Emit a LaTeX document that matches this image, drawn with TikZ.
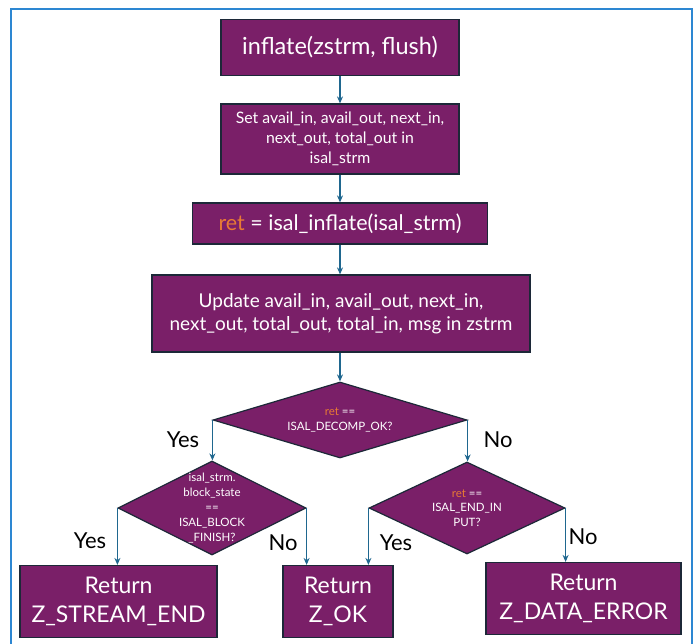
\documentclass[tikz,border=0pt]{standalone}
\usepackage{fontspec}
\setmainfont{Lato}
\usetikzlibrary{shapes.geometric,arrows.meta}
\definecolor{boxfill}{RGB}{122,31,104}
\definecolor{boxline}{RGB}{28,40,56}
\definecolor{arrowc}{RGB}{31,103,143}
\definecolor{retc}{RGB}{232,122,52}
\definecolor{framec}{RGB}{45,135,210}
\begin{document}
\begin{tikzpicture}[x=1pt,y=-1pt,
 box/.style={draw=boxline, fill=boxfill, line width=1.2pt, text=white, align=center, inner sep=0pt},
 dia/.style={draw=boxline, fill=boxfill, line width=1.2pt, diamond, inner sep=0pt},
 dtext/.style={text=white, align=center, font=\fontsize{11.5}{14.8}\selectfont},
 arr/.style={draw=arrowc, line width=1.3pt, -{Stealth[length=7pt,width=6pt]}},
 lbl/.style={font=\fontsize{22}{24}\selectfont, text=black}]
\useasboundingbox (0,0) rectangle (695,644);
\fill[white] (0,0) rectangle (695,644);
\draw[framec, line width=2.5pt] (11,9) rectangle (692,660);

\node[box, minimum width=238, minimum height=56, font=\fontsize{23.5}{26}\selectfont] (top) at (340,47.5) {inflate(zstrm, flush)};
\node[box, minimum width=238, minimum height=70, font=\fontsize{15.8}{20}\selectfont] (set) at (340,139) {Set avail\_in, avail\_out, next\_in,\\ next\_out, total\_out in\\ isal\_strm};
\node[box, minimum width=295, minimum height=41, font=\fontsize{21.5}{24}\selectfont] (ret) at (340,223.5) {\textcolor{retc}{ret} = isal\_inflate(isal\_strm)};
\node[box, minimum width=378, minimum height=77, font=\fontsize{19}{22.5}\selectfont] (upd) at (341,313.5) {Update avail\_in, avail\_out, next\_in,\\ next\_out, total\_out, total\_in, msg in zstrm};

\node[dia, minimum width=254, minimum height=76] (d1) at (340,420) {};
\node[dtext] (t1) at (d1.center) {\textcolor{retc}{ret} ==\\ ISAL\_DECOMP\_OK?};
\node[dia, minimum width=188, minimum height=94] (d2) at (212,508) {};
\node[dtext] (t2) at (d2.center) {isal\_strm.\\ block\_state\\ ==\\ ISAL\_BLOCK\\ \_FINISH?};
\node[dia, minimum width=196, minimum height=92] (d3) at (467,508) {};
\node[dtext] (t3) at (d3.center) {\textcolor{retc}{ret} ==\\ ISAL\_END\_IN\\ PUT?};

\node[box, minimum width=197, minimum height=72, font=\fontsize{23}{28.5}\selectfont] (b1) at (118.5,601.5) {Return\\ Z\_STREAM\_END};
\node[box, minimum width=110, minimum height=72, font=\fontsize{23}{28.5}\selectfont] (b2) at (338,601.5) {Return\\ Z\_OK};
\node[box, minimum width=195, minimum height=72, font=\fontsize{23}{28.5}\selectfont] (b3) at (583.5,598.5) {Return\\ Z\_DATA\_ERROR};

\draw[arr] (top.south) -- (set.north);
\draw[arr] (set.south) -- (ret.north);
\draw[arr] (ret.south) -- (ret.south |- upd.north);
\draw[arr] (upd.south -| d1.north) -- (d1.north);
\draw[arr] (d1.west) -- (d1.west |- d2.north);
\draw[arr] (d1.east) -- (d1.east |- d3.north);
\draw[arr] (d2.west) -- (d2.west |- b1.north);
\draw[arr] (d2.east) -- (d2.east |- b2.north);
\draw[arr] (d3.west) -- (d3.west |- b2.north);
\draw[arr] (d3.east) -- (d3.east |- b3.north);

\node[lbl] (y1) at (183,440) {Yes};
\node[lbl] (n1) at (498,440) {No};
\node[lbl] (y2) at (90,541) {Yes};
\node[lbl] (n2) at (283,543) {No};
\node[lbl] (y3) at (396,543) {Yes};
\node[lbl] (n3) at (583,537) {No};
\end{tikzpicture}
\end{document}
